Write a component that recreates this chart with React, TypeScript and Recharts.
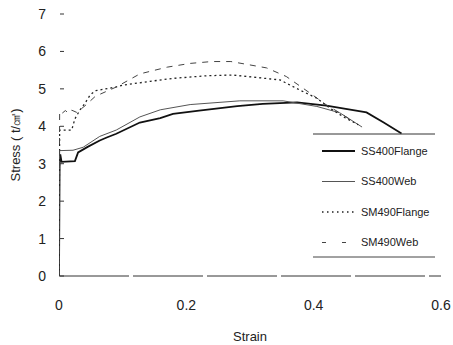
import React from 'react';
import { LineChart, Line, XAxis, YAxis } from 'recharts';

const ss400FlangeStrain = [0, 0.001, 0.002, 0.004, 0.025, 0.03, 0.045, 0.064, 0.075, 0.09, 0.127, 0.159, 0.179, 0.22, 0.28, 0.32, 0.374, 0.42, 0.483, 0.51, 0.538];
const ss400FlangeStress = [0, 3.1, 3.25, 3.05, 3.07, 3.3, 3.45, 3.62, 3.7, 3.8, 4.1, 4.22, 4.33, 4.42, 4.54, 4.6, 4.64, 4.55, 4.37, 4.1, 3.81];

const ss400WebStrain = [0, 0.001, 0.022, 0.038, 0.064, 0.09, 0.127, 0.159, 0.206, 0.284, 0.352, 0.405, 0.441, 0.476];
const ss400WebStress = [0, 3.35, 3.36, 3.44, 3.73, 3.9, 4.25, 4.44, 4.58, 4.68, 4.68, 4.53, 4.36, 3.98];

const sm490FlangeStrain = [0, 0.001, 0.02, 0.025, 0.033, 0.041, 0.049, 0.057, 0.09, 0.1, 0.143, 0.179, 0.232, 0.272, 0.347, 0.378, 0.405, 0.425, 0.446, 0.47];
const sm490FlangeStress = [0, 3.9, 3.9, 4.2, 4.44, 4.62, 4.84, 4.95, 5.05, 5.1, 5.2, 5.28, 5.35, 5.37, 5.24, 4.97, 4.75, 4.49, 4.26, 4.04];

const sm490WebStrain = [0, 0.001, 0.005, 0.01, 0.015, 0.02, 0.028, 0.041, 0.057, 0.09, 0.127, 0.17, 0.206, 0.24, 0.27, 0.326, 0.357, 0.394, 0.42, 0.441, 0.462];
const sm490WebStress = [0, 4.4, 4.35, 4.42, 4.35, 4.43, 4.37, 4.55, 4.8, 5.05, 5.4, 5.58, 5.68, 5.73, 5.73, 5.56, 5.33, 4.89, 4.57, 4.36, 4.13];

const xTicks = [0, 0.2, 0.4, 0.6];
const yTicks = [0, 1, 2, 3, 4, 5, 6, 7];

const seriesNames = ['SS400Flange', 'SS400Web', 'SM490Flange', 'SM490Web'];

const toPoints = (xs: number[], ys: number[]) => xs.map((x, i) => ({ strain: x, stress: ys[i] }));

const ss400Flange = toPoints(ss400FlangeStrain, ss400FlangeStress);
const ss400Web = toPoints(ss400WebStrain, ss400WebStress);
const sm490Flange = toPoints(sm490FlangeStrain, sm490FlangeStress);
const sm490Web = toPoints(sm490WebStrain, sm490WebStress);

const FONT = '"Liberation Sans", Arial, sans-serif';

const styles = [
  { stroke: '#111', strokeWidth: 1.8, dash: undefined as string | undefined, legendDash: undefined as string | undefined },
  { stroke: '#555', strokeWidth: 1, dash: undefined, legendDash: undefined },
  { stroke: '#222', strokeWidth: 1.3, dash: '2 3', legendDash: '1.5 3.5' },
  { stroke: '#444', strokeWidth: 1, dash: '6 6', legendDash: '4 16' },
];

const YTick = (props: any) => {
  const { x, y, payload } = props;
  return (
    <g>
      <text x={x} y={y} dy="0.36em" textAnchor="end" fontSize={14} fontFamily={FONT} fill="#222">
        {payload.value}
      </text>
      <line x1={x + 14} x2={x + 18} y1={y} y2={y} stroke="#333" strokeWidth={1} />
    </g>
  );
};

const LegendBox = () => (
  <svg width={125} height={130} style={{ display: 'block' }}>
    <line x1={0} x2={122} y1={4} y2={4} stroke="#333" strokeWidth={1} />
    {seriesNames.map((name, i) => {
      const yy = 21 + i * 30.5;
      const s = styles[i];
      return (
        <g key={name}>
          <line x1={9} x2={42} y1={yy} y2={yy} stroke={s.stroke} strokeWidth={s.strokeWidth} strokeDasharray={s.legendDash} />
          <text x={48} y={yy} dy="0.36em" fontSize={11} fontFamily={FONT} fill="#222">
            {name}
          </text>
        </g>
      );
    })}
    <line x1={0} x2={122} y1={127} y2={127} stroke="#444" strokeWidth={1} />
  </svg>
);

export default function App() {
  const datasets = [ss400Flange, ss400Web, sm490Flange, sm490Web];
  return (
    <div style={{ position: 'absolute', left: 0, top: 0, width: 453, height: 345, background: '#fff' }}>
      <LineChart width={453} height={345} margin={{ top: 14, right: 12, bottom: 0, left: 0 }}>
        <XAxis
          type="number"
          dataKey="strain"
          domain={[0, 0.6]}
          ticks={xTicks}
          interval={0}
          allowDataOverflow
          height={69}
          tickLine={false}
          tickSize={0}
          tickMargin={24}
          axisLine={{ stroke: '#333', strokeDasharray: '70 4', strokeWidth: 1 }}
          tick={{ fontSize: 14, fontFamily: FONT, fill: '#222' }}
          label={{ value: 'Strain', position: 'insideBottom', offset: 4, fontSize: 13, fontFamily: FONT, fill: '#222' }}
        />
        <YAxis
          type="number"
          dataKey="stress"
          domain={[0, 7]}
          ticks={yTicks}
          interval={0}
          width={59}
          axisLine={false}
          tickLine={false}
          tickSize={0}
          tickMargin={13}
          tick={<YTick />}
          label={{ value: 'Stress ( t/㎠)', angle: -90, position: 'center', dx: -14, fontSize: 13, fontFamily: FONT, fill: '#222' }}
        />
        {datasets.map((d, i) => (
          <Line
            key={seriesNames[i]}
            data={d}
            name={seriesNames[i]}
            dataKey="stress"
            type="linear"
            stroke={styles[i].stroke}
            strokeWidth={styles[i].strokeWidth}
            strokeDasharray={styles[i].dash}
            dot={false}
            activeDot={false}
            isAnimationActive={false}
          />
        ))}
      </LineChart>
      <div style={{ position: 'absolute', left: 313, top: 130 }}>
        <LegendBox />
      </div>
    </div>
  );
}
